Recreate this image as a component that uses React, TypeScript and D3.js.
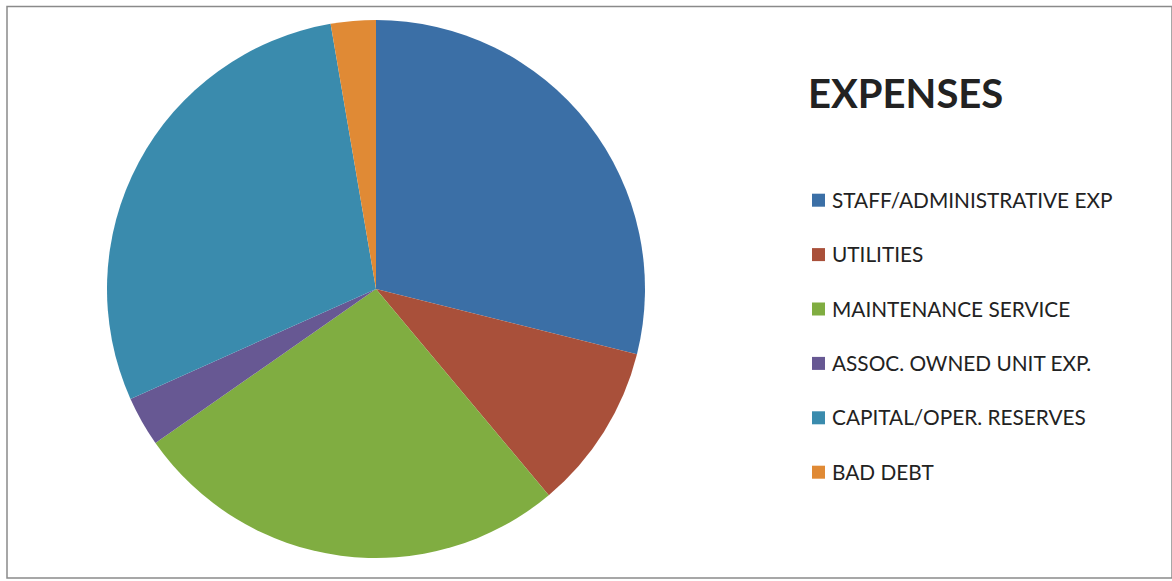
import React from "react";
import * as d3 from "d3";

const categories = [
  "STAFF/ADMINISTRATIVE EXP",
  "UTILITIES",
  "MAINTENANCE SERVICE",
  "ASSOC. OWNED UNIT EXP.",
  "CAPITAL/OPER. RESERVES",
  "BAD DEBT",
];
const values = [28.9, 10.0, 26.4, 3.0, 29.0, 2.7];
const colors = ["#3b6fa6", "#a9503a", "#80ad41", "#675893", "#3a8bad", "#e08a35"];
const title = "EXPENSES";

const W = 1172;
const H = 581;

export default function App() {
  const cx = 376;
  const cy = 289;
  const r = 269;
  const pie = d3.pie<number>().sort(null).value((d) => d)(values);
  const arc = d3.arc<d3.PieArcDatum<number>>().innerRadius(0).outerRadius(r);

  const legendY = d3
    .scalePoint<number>()
    .domain(d3.range(categories.length))
    .range([207.7, 479.7]);

  return (
    <svg
      width={W}
      height={H}
      style={{ position: "fixed", left: 0, top: 0, background: "#fff" }}
      fontFamily="Lato, 'Open Sans', sans-serif"
    >
      <rect x={0} y={0} width={W} height={H} fill="#fff" />
      <rect x={7} y={6.5} width={1165} height={571.5} fill="none" stroke="#8a8a8a" strokeWidth={1.5} />
      <g transform={`translate(${cx},${cy})`}>
        {pie.map((d, i) => (
          <path key={i} d={arc(d) || ""} fill={colors[i]} />
        ))}
      </g>
      <text x={808} y={108} fontSize={40} fontWeight={700} fill="#222">
        {title}
      </text>
      {categories.map((c, i) => (
        <g key={c}>
          <rect x={812} y={legendY(i)! - 14} width={13} height={13} fill={colors[i]} />
          <text x={832} y={legendY(i)} fontSize={20.8} fill="#222">
            {c}
          </text>
        </g>
      ))}
    </svg>
  );
}
